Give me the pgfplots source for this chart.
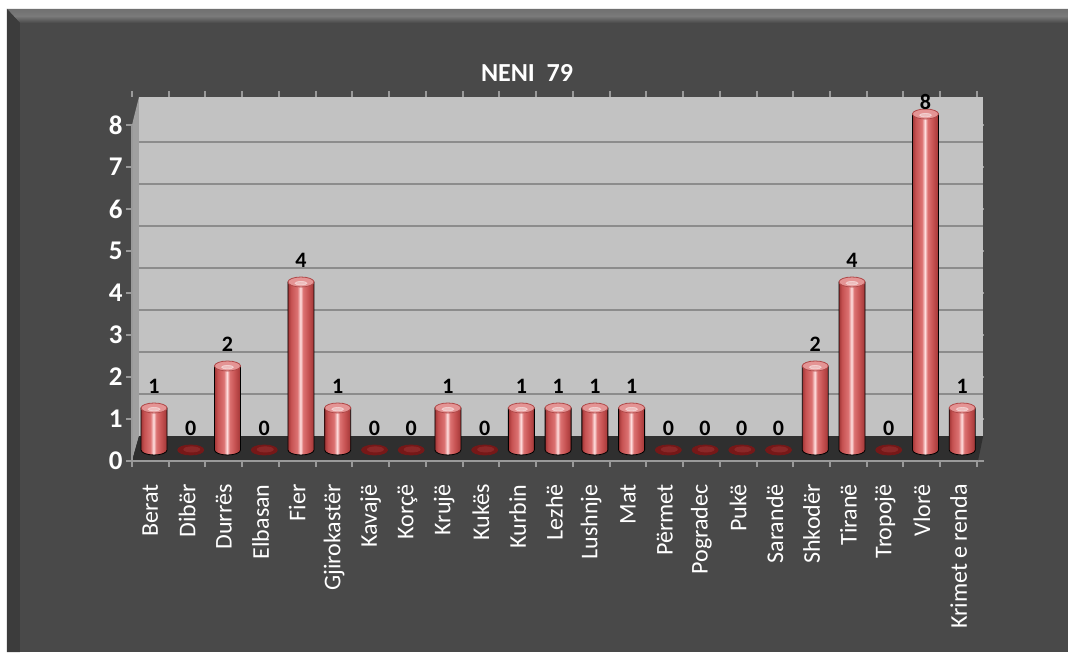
\documentclass[border=0pt]{standalone}
\usepackage{fontspec}
\setmainfont{Carlito}
\usepackage{pgfplots}
\pgfplotsset{compat=1.18}
\usepackage{pgfplotstable}

\definecolor{bgc}{HTML}{494949}
\definecolor{bevc}{HTML}{7A7A7A}
\definecolor{lbevc}{HTML}{3C3C3C}
\definecolor{wallc}{HTML}{C2C2C2}
\definecolor{sidec}{HTML}{A0A0A0}
\definecolor{gridc}{HTML}{8C8C8C}
\definecolor{floorc}{HTML}{2F2F2F}
\definecolor{axc}{HTML}{9A9A9A}
\definecolor{cA}{HTML}{A23636}
\definecolor{cB}{HTML}{C65252}
\definecolor{cC}{HTML}{DC7272}
\definecolor{cD}{HTML}{FFE0E0}
\definecolor{capc}{HTML}{E49494}
\definecolor{capd}{HTML}{B04848}
\definecolor{zeroc}{HTML}{761818}
\definecolor{zerod}{HTML}{8A2828}

\pgfdeclarehorizontalshading{cyl}{100bp}{color(0bp)=(cA); color(25bp)=(cA); color(31bp)=(cB); color(43bp)=(cC); color(49bp)=(cD); color(54bp)=(cC); color(64bp)=(cB); color(75bp)=(cA); color(100bp)=(cA)}

\pgfplotstableread{
x v dy
0 1 11
1 0 11
2 2 11
3 0 11
4 4 11
5 1 11
6 0 11
7 0 11
8 1 11
9 0 11
10 1 11
11 1 11
12 1 11
13 1 11
14 0 11
15 0 11
16 0 11
17 0 11
18 2 11
19 4 11
20 0 11
21 8 6
22 1 11
}\datatable

\begin{document}
\begin{tikzpicture}
\fill[white] (-66pt,-95.5pt) rectangle (468pt,230.5pt);
\fill[bgc] (-62.5pt,-95.5pt) rectangle (468pt,226pt);
\shade[top color=bevc!80!bgc, bottom color=bgc, middle color=bevc] (-62.5pt,226pt) -- (468pt,226pt) -- (468pt,219pt) -- (-56pt,219pt) -- cycle;
\fill[lbevc] (-62.5pt,226pt) -- (-56pt,219pt) -- (-56pt,-95.5pt) -- (-62.5pt,-95.5pt) -- cycle;
\path[use as bounding box] (-66pt,-95.5pt) rectangle (468pt,230.5pt);

\begin{axis}[
  at={(0pt,0pt)}, anchor=south west, scale only axis,
  width=423pt, height=182pt,
  xmin=-0.6, xmax=22.43, ymin=-0.262, ymax=8.405,
  clip=false,
  axis line style={draw=none},
  /pgf/number format/assume math mode=true,
  xtick={-0.1,0.9,1.9,2.9,3.9,4.9,5.9,6.9,7.9,8.9,9.9,10.9,11.9,12.9,13.9,14.9,15.9,16.9,17.9,18.9,19.9,20.9,21.9},
  xticklabels={Berat,Dibër,Durrës,Elbasan,Fier,Gjirokastër,Kavajë,Korçë,Krujë,Kukës,Kurbin,Lezhë,Lushnje,Mat,Përmet,Pogradec,Pukë,Sarandë,Shkodër,Tiranë,Tropojë,Vlorë,Krimet e renda},
  minor xtick={-0.6,0.4,1.4,2.4,3.4,4.4,5.4,6.4,7.4,8.4,9.4,10.4,11.4,12.4,13.4,14.4,15.4,16.4,17.4,18.4,19.4,20.4,21.4,22.4},
  every major x tick/.append style={draw=none},
  xticklabel style={rotate=90, anchor=east, inner sep=0pt, font=\fontsize{12}{14}\selectfont, text=white},
  xticklabel shift=8.5pt,
  ytick={-0.262,0.738,1.738,2.738,3.738,4.738,5.738,6.738,7.738},
  yticklabels={0,1,2,3,4,5,6,7,8},
  yticklabel style={inner sep=0pt, anchor=east, xshift=-1.5pt, font=\fontsize{13.5}{15}\selectfont\bfseries, text=white},
  tick style={axc, line width=1pt},
  tick align=outside, major tick length=3pt, minor tick length=3pt,
]
\fill[wallc] (axis cs:-0.41,0.33) rectangle (axis cs:22.57,8.405);
\fill[sidec] (axis cs:-0.6,-0.262) -- (axis cs:-0.41,0.33) -- (axis cs:-0.41,8.405) -- (axis cs:-0.6,7.738) -- cycle;
\pgfplotsinvokeforeach{1,...,7}{\draw[gridc, line width=1pt] (axis cs:-0.41,#1.33) -- (axis cs:22.57,#1.33);}
\fill[floorc] (axis cs:-0.6,-0.262) -- (axis cs:22.43,-0.262) -- (axis cs:22.57,0.33) -- (axis cs:-0.41,0.33) -- cycle;
\draw[axc, line width=1pt] (axis cs:-0.6,7.738) -- (axis cs:-0.6,-0.262) -- (axis cs:22.43,-0.262);

\addplot[scatter, only marks, mark=*, mark size=0pt, mark options={draw=none, fill=none},
  visualization depends on={rawy \as \vv},
  scatter/@pre marker code/.code={%
    \pgfmathsetmacro\hh{\vv*20.999}%
    \ifdim\vv pt>0.5pt
      \shade[shading=cyl] (-6.5pt,0pt) -- (-6.5pt,-\hh pt) arc[start angle=180, end angle=360, x radius=6.5pt, y radius=2.5pt] -- (6.5pt,0pt) -- cycle;
      \filldraw[fill=capc, draw=capd, line width=0.4pt] (0pt,0pt) ellipse [x radius=6.5pt, y radius=2.5pt];
      \fill[white, opacity=0.4] (0pt,-0.6pt) ellipse [x radius=3pt, y radius=0.9pt];
    \else
      \fill[zeroc] (0pt,0pt) ellipse [x radius=6.5pt, y radius=2.5pt];
      \fill[zerod] (0.5pt,0.3pt) ellipse [x radius=4pt, y radius=1.3pt];
    \fi
  },
  scatter/@post marker code/.code={},
] table[x=x, y=v] {\datatable};

\addplot[only marks, mark=none, nodes near coords,
  visualization depends on={\thisrow{dy} \as \dy},
  every node near coord/.append style={anchor=center, yshift=\dy pt, font=\fontsize{11}{12}\selectfont\bfseries, text=black}]
  table[x=x, y=v] {\datatable};
\end{axis}
\node[text=white, font=\fontsize{13}{15}\selectfont\bfseries] at (197.5pt,194.25pt) {NENI\ \ 79};
\end{tikzpicture}
\end{document}
